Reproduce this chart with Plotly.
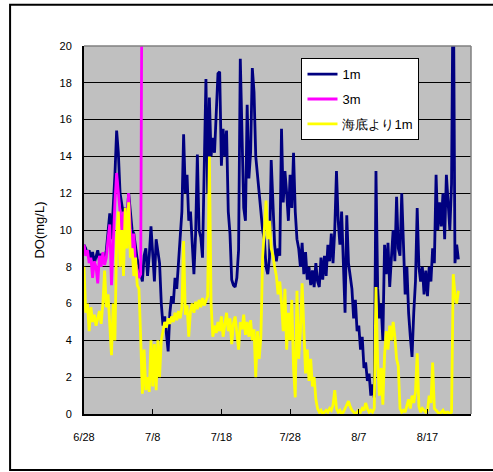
import pandas as pd
import plotly.graph_objects as go

# ---- data: DO (mg/L), sampled every 6 hours starting 6/28 00:00 ----
START = "2004-06-28"
STEP_DAYS = 0.25

do_1m = [
    9.2, 9.0, 8.6, 8.9,   8.4, 8.8, 8.2, 8.6,   8.9, 8.3, 8.7, 8.5,
    8.4, 8.9, 9.8, 10.9,  9.5, 11.0, 13.0, 15.4, 14.2, 12.0, 11.5, 10.8,
    11.2, 10.5, 12.0, 11.0, 10.0, 9.8, 9.0, 8.4, 8.0, 7.6, 7.2, 8.6,
    9.0, 7.5, 8.6, 10.2,  8.8, 7.2, 9.5, 8.7,   8.2, 6.0, 4.8, 5.3,
    4.4, 3.4, 5.5, 6.4,   6.0, 7.4, 6.8, 8.2,   9.0, 11.0, 15.2, 12.0,
    13.0, 10.5, 11.0, 9.0, 7.6, 9.8, 14.1, 10.0, 9.6, 8.5, 13.0, 18.2,
    12.0, 17.2, 14.0, 15.0, 14.2, 16.5, 18.5, 18.6, 13.5, 15.5, 14.0, 15.4,
    11.0, 9.8, 7.3, 7.0,  6.9, 7.4, 8.9, 19.3,  15.0, 11.2, 10.5, 16.8,
    12.8, 14.2, 18.8, 17.5, 14.0, 13.0, 12.0, 11.2, 10.0, 9.5, 8.0, 7.6,
    8.5, 13.8, 11.5, 9.2, 8.3, 9.0, 8.6, 15.5,  11.5, 13.2, 12.0, 10.5,
    13.0, 11.2, 14.2, 11.0, 9.5, 9.0, 8.0, 9.3,  7.6, 8.8, 7.3, 8.0,
    7.0, 7.8, 6.9, 8.2,   7.2, 6.9, 8.5, 7.3,   8.6, 7.5, 9.2, 8.3,
    9.8, 8.2, 10.0, 13.2, 10.5, 9.2, 11.0, 7.6, 5.5, 10.8, 8.2, 7.5,
    6.8, 5.2, 6.2, 4.5,   4.8, 3.5, 4.2, 2.5,   2.8, 1.8, 2.2, 1.0,
    1.6, 0.9, 13.2, 6.8,  5.2, 6.0, 4.0, 9.2,   7.6, 9.3, 6.9, 8.5,
    10.0, 8.3, 11.8, 9.0, 8.6, 12.0, 9.2, 6.5,  8.0, 5.5, 4.2, 3.1,
    5.5, 7.2, 11.2, 8.0,  7.2, 8.0, 6.5, 7.8,   6.4, 8.0, 7.2, 9.0,
    8.2, 13.0, 10.0, 11.5, 10.2, 12.0, 9.5, 13.0, 11.5, 10.0, 12.5, 25.0,
    8.2, 9.2, 8.4,
]

do_3m = [
    9.2, 8.6, 8.9, 8.2,   8.5, 7.4, 8.3, 8.0,   7.1, 8.6, 8.0, 8.8,
    8.1, 8.5, 9.5, 10.3,  7.0, 9.8, 11.5, 13.1, 11.8, 11.0, 10.0, 11.0,
    9.2, 10.5, 12.0, 10.0, 9.0, 9.8, 8.2, 7.8,  7.4, 7.6, 30.0,
]

do_bottom = [
    8.0, 5.5, 6.0, 4.5,   5.8, 5.0, 5.4, 4.8,   5.2, 5.6, 4.9, 6.0,
    7.8, 5.8, 6.5, 4.5,   3.2, 6.0, 4.0, 9.5,   11.0, 8.0, 10.0, 7.5,
    11.2, 9.0, 11.5, 8.5, 9.0, 7.5, 8.5, 7.0,   6.8, 4.2, 1.1, 3.5,
    1.3, 2.0, 1.2, 4.0,   1.5, 3.8, 1.3, 4.0,   2.0, 4.0, 4.6, 5.0,
    4.7, 5.2, 4.9, 5.3,   5.0, 5.5, 5.1, 5.6,   5.2, 5.8, 9.4, 5.4,
    5.9, 4.2, 5.6, 6.0,   5.5, 6.1, 5.7, 6.2,   5.8, 6.3, 5.9, 6.2,
    6.4, 14.0, 6.0, 4.2,  4.8, 4.4, 5.0, 4.5,   5.3, 4.2, 4.9, 5.5,
    4.5, 5.2, 3.8, 4.9,   5.3, 4.4, 3.5, 5.0,   4.6, 5.4, 4.3, 5.0,
    4.2, 5.1, 4.0, 4.6,   2.0, 4.5, 3.0, 4.2,   8.5, 10.0, 11.6, 9.5,
    10.5, 9.0, 8.6, 8.0,  7.5, 6.5, 7.2, 6.0,   4.5, 6.8, 3.5, 5.5,
    4.0, 6.2, 2.5, 0.9,   6.7, 3.0, 4.5, 7.1,   4.0, 2.2, 3.5, 1.8,
    3.0, 1.5, 2.0, 0.8,   0.3, 0.1, 0.2, 0.0,   0.1, 0.2, 0.1, 0.3,
    0.2, 0.5, 1.3, 0.3,   0.1, 0.2, 0.0, 0.1,   0.3, 0.5, 0.7, 0.4,
    0.2, 0.1, 0.0, 0.1,   0.2, 0.1, 0.3, 0.2,   0.6, 0.3, 0.1, 0.2,
    0.1, 0.3, 6.9, 2.8,   1.0, 2.5, 0.5, 3.2,   4.5, 3.5, 4.8, 4.0,
    5.0, 4.2, 3.0, 2.6,   0.3, 0.1, 0.2, 0.1,   0.5, 0.8, 0.3, 1.0,
    0.6, 1.2, 3.3, 0.4,   0.1, 0.3, 0.2, 0.1,   0.2, 1.0, 0.6, 2.8,
    0.3, 0.2, 0.1, 0.0,   0.1, 0.2, 0.0, 0.1,   0.1, 0.0, 0.1, 7.6,
    6.5, 6.0, 6.7,
]

series_names = ["1m", "3m", "海底より1m"]
series_colors = ["#000080", "#FF00FF", "#FFFF00"]
tick_labels = ["6/28", "7/8", "7/18", "7/28", "8/7", "8/17"]
x_range = ["2004-06-28", "2004-08-23 08:00"]
y_ticks = list(range(0, 21, 2))

base = pd.Timestamp(START)


def times(vals):
    return [base + pd.Timedelta(days=i * STEP_DAYS) for i in range(len(vals))]


tick_vals = [pd.Timestamp(f"2004/{t}") for t in tick_labels]

fig = go.Figure()
for name, vals, col in zip(series_names, [do_1m, do_3m, do_bottom], series_colors):
    fig.add_trace(go.Scatter(
        x=times(vals), y=vals, mode="lines", name=name,
        line=dict(color=col, width=2.8), legendgroup=name,
    ))

font = dict(family="Liberation Sans, Arial, sans-serif", size=11, color="black")

fig.update_layout(
    width=493, height=472,
    margin=dict(l=84, r=22, t=46, b=58),
    paper_bgcolor="white",
    plot_bgcolor="#C0C0C0",
    font=font,
    showlegend=True,
    legend=dict(
        x=0.562, y=0.967, xanchor="left", yanchor="top",
        bgcolor="white", bordercolor="black", borderwidth=1,
        font=dict(family="Liberation Sans, Arial, sans-serif", size=13, color="black"),
        tracegroupgap=5,
    ),
    xaxis=dict(
        range=x_range, tickvals=tick_vals, ticktext=tick_labels,
        showgrid=False, showline=True, linecolor="black", linewidth=2,
        ticks="inside", ticklen=5, tickcolor="black", tickwidth=1,
        ticklabelstandoff=12, zeroline=False,
    ),
    yaxis=dict(
        range=[0, 20], tickvals=y_ticks,
        showgrid=True, gridcolor="black", gridwidth=1.3,
        showline=True, linecolor="black", linewidth=2,
        ticks="", ticklabelstandoff=8, zeroline=False,
        title=dict(text="DO(mg/L)", standoff=12),
    ),
    shapes=[
        dict(type="line", xref="paper", yref="paper", x0=0, x1=1, y0=1, y1=1,
             line=dict(color="#808080", width=1.5), layer="above"),
        dict(type="line", xref="paper", yref="paper", x0=1, x1=1, y0=0, y1=1,
             line=dict(color="#808080", width=1.5), layer="above"),
        dict(type="rect", xref="paper", yref="paper", x0=-0.191, x1=1.08,
             y0=-0.152, y1=1.112, line=dict(color="black", width=2),
             fillcolor="rgba(0,0,0,0)", layer="above"),
    ],
)

fig.write_html("out.html", config={"displayModeBar": False},
               post_script="document.body.style.margin='0';")
